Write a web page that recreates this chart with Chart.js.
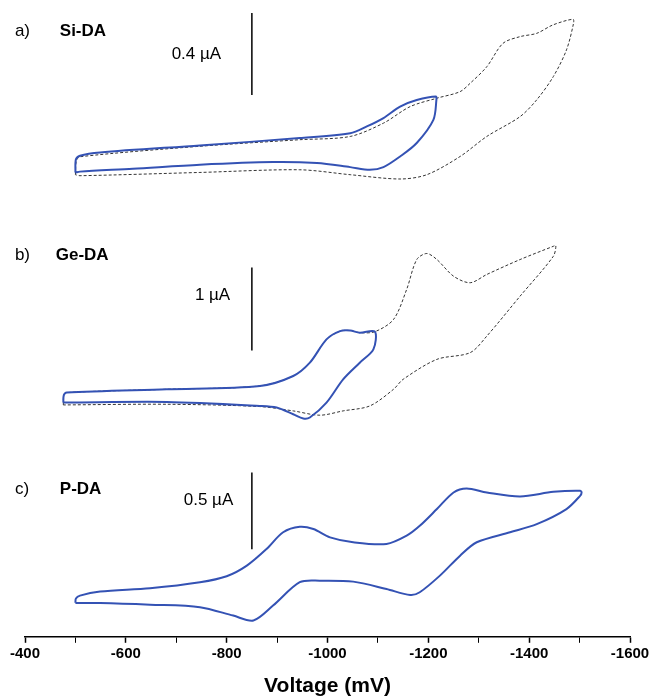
<!DOCTYPE html>
<html>
<head>
<meta charset="utf-8">
<script src="https://cdn.jsdelivr.net/npm/chart.js@4.4.1/dist/chart.umd.min.js"></script>
<style>
  html, body { margin: 0; padding: 0; background: #fff; }
  #wrap { width: 655px; height: 699px; position: relative; }
</style>
</head>
<body>
<div id="wrap"><canvas id="cv"></canvas></div>
<script>
// a) Si-DA  (voltage in mV, current in µA)
const siBlueV = [-500, -501, -509, -549, -747, -945, -1045, -1078, -1111, -1144, -1177, -1215, -1216, -1210, -1177, -1144, -1111, -1084, -1045, -979, -892, -747, -614, -509, -500];
const siBlueI = [0.010, 0.075, 0.093, 0.109, 0.143, 0.179, 0.203, 0.236, 0.277, 0.333, 0.365, 0.382, 0.366, 0.268, 0.155, 0.089, 0.037, 0.024, 0.037, 0.057, 0.062, 0.049, 0.029, 0.015, 0.010];
const siDashV = [-500, -502, -510, -747, -945, -1045, -1111, -1164, -1217, -1263, -1283, -1316, -1348, -1382, -1415, -1447, -1487, -1488, -1474, -1448, -1415, -1382, -1316, -1263, -1197, -1144, -1045, -945, -747, -509, -500];
const siDashI = [0.000, 0.070, 0.088, 0.139, 0.171, 0.187, 0.252, 0.333, 0.374, 0.406, 0.447, 0.528, 0.642, 0.675, 0.691, 0.732, 0.760, 0.740, 0.610, 0.480, 0.366, 0.284, 0.187, 0.089, 0.000, -0.021, 0.000, 0.024, 0.011, -0.005, 0.000];

// b) Ge-DA
const geBlueV = [-476, -477, -483, -681, -866, -932, -965, -998, -1025, -1045, -1064, -1094, -1091, -1064, -1031, -998, -965, -952, -932, -899, -866, -681, -483, -476];
const geBlueI = [0.081, 0.170, 0.201, 0.241, 0.281, 0.401, 0.562, 0.843, 0.943, 0.950, 0.924, 0.936, 0.723, 0.562, 0.361, 0.080, -0.100, -0.112, -0.060, 0.020, 0.040, 0.088, 0.081, 0.081];
const geDashV = [-476, -477, -483, -681, -866, -932, -965, -998, -1025, -1045, -1064, -1094, -1131, -1157, -1177, -1197, -1217, -1250, -1283, -1316, -1382, -1448, -1453, -1448, -1382, -1316, -1283, -1217, -1150, -1131, -1084, -1031, -985, -932, -866, -681, -476];
const geDashI = [0.052, 0.170, 0.201, 0.241, 0.281, 0.401, 0.562, 0.843, 0.943, 0.950, 0.924, 0.936, 1.084, 1.446, 1.807, 1.880, 1.807, 1.606, 1.527, 1.627, 1.807, 1.967, 1.976, 1.847, 1.365, 0.883, 0.683, 0.602, 0.361, 0.241, 0.040, -0.020, -0.072, -0.020, 0.032, 0.060, 0.052];

// c) P-DA
const pBlueV = [-500, -501, -509, -549, -648, -747, -800, -840, -879, -912, -945, -972, -1005, -1051, -1117, -1157, -1183, -1217, -1250, -1276, -1316, -1382, -1448, -1501, -1504, -1501, -1474, -1415, -1362, -1296, -1263, -1223, -1183, -1164, -1117, -1051, -985, -945, -892, -853, -813, -747, -648, -549, -500];
const pBlueI = [0.006, 0.035, 0.054, 0.080, 0.102, 0.141, 0.180, 0.249, 0.357, 0.466, 0.502, 0.487, 0.433, 0.401, 0.390, 0.444, 0.508, 0.617, 0.725, 0.751, 0.725, 0.699, 0.729, 0.736, 0.725, 0.703, 0.617, 0.519, 0.466, 0.401, 0.314, 0.184, 0.076, 0.058, 0.097, 0.145, 0.151, 0.141, -0.011, -0.108, -0.076, -0.021, -0.005, 0.006, 0.006];

// panel labels and scale bars
const panelAxes = ['ya', 'yb', 'yc'];
const panelTags = ['a)', 'b)', 'c)'];
const compoundNames = ['Si-DA', 'Ge-DA', 'P-DA'];
const barTexts = ['0.4 µA', '1 µA', '0.5 µA'];
const barSpan = [0.4, 1, 0.5];      // µA
const barTop = [0.79, 1.71, 0.855]; // µA
const barV = -850;
const tagV = -380;
const tagI = [0.702, 1.855, 0.747];
const nameV = [-469, -461, -469];
const barTextV = [-789, -807, -813];
const barTextI = [0.590, 1.373, 0.675];

const pts = (v, i) => v.map((x, k) => ({ x, y: i[k] }));
const BLUE = '#3452b4';

const blue = (v, i, axis) => ({
  data: pts(v, i), yAxisID: axis, borderColor: BLUE, borderWidth: 2,
  tension: 0.3, pointRadius: 0, fill: false
});
const dashed = (v, i, axis) => ({
  data: pts(v, i), yAxisID: axis, borderColor: '#333', borderWidth: 1,
  borderDash: [3, 2], tension: 0.3, pointRadius: 0, fill: false
});

const bars = panelAxes.map((axis, k) => ({
  data: [{ x: barV, y: barTop[k] }, { x: barV, y: barTop[k] - barSpan[k] }],
  yAxisID: axis, borderColor: '#000', borderWidth: 1.5, pointRadius: 0, tension: 0
}));

const font = '"Liberation Sans", Arial, sans-serif';

const panelText = {
  id: 'panelText',
  afterDraw(chart) {
    const ctx = chart.ctx;
    const xs = chart.scales.x;
    ctx.save();
    ctx.fillStyle = '#000';
    ctx.textBaseline = 'middle';
    panelAxes.forEach((id, k) => {
      const ys = chart.scales[id];
      ctx.textAlign = 'left';
      ctx.font = '17px ' + font;
      ctx.fillText(panelTags[k], xs.getPixelForValue(tagV), ys.getPixelForValue(tagI[k]));
      ctx.font = 'bold 17px ' + font;
      ctx.fillText(compoundNames[k], xs.getPixelForValue(nameV[k]), ys.getPixelForValue(tagI[k]));
      ctx.textAlign = 'right';
      ctx.font = '17px ' + font;
      ctx.fillText(barTexts[k], xs.getPixelForValue(barTextV[k]), ys.getPixelForValue(barTextI[k]));
    });
    ctx.restore();
  }
};

new Chart(document.getElementById('cv'), {
  type: 'line',
  data: {
    datasets: [
      blue(siBlueV, siBlueI, 'ya'),
      blue(geBlueV, geBlueI, 'yb'),
      blue(pBlueV, pBlueI, 'yc'),
      dashed(siDashV, siDashI, 'ya'),
      dashed(geDashV, geDashI, 'yb'),
      ...bars
    ]
  },
  options: {
    responsive: true,
    maintainAspectRatio: false,
    devicePixelRatio: 1,
    animation: false,
    layout: { padding: { left: 25, right: 25, top: 0, bottom: 0 } },
    plugins: { legend: { display: false }, tooltip: { enabled: false } },
    scales: {
      x: {
        type: 'linear', reverse: true, min: -1600, max: -400,
        border: { display: true, color: '#000', width: 1.5 },
        grid: {
          drawOnChartArea: false, drawTicks: true, tickLength: 6, color: '#000',
          tickWidth: (c) => (c.tick && c.tick.value % 200 === 0 ? 1.5 : 1)
        },
        ticks: {
          stepSize: 100, padding: 2, color: '#000',
          font: { family: font, size: 15, weight: 'bold' },
          maxRotation: 0, autoSkip: false,
          callback: (v) => (v % 200 === 0 ? String(v) : '')
        },
        title: {
          display: true, text: 'Voltage (mV)', color: '#000',
          font: { family: font, size: 21, weight: 'bold' },
          padding: { top: 9, bottom: 0 }
        }
      },
      ya: { type: 'linear', display: false, min: -2.259, max: 0.854 },
      yb: { type: 'linear', display: false, min: -2.747, max: 4.940 },
      yc: { type: 'linear', display: false, min: -0.214, max: 3.929 }
    }
  },
  plugins: [panelText]
});
</script>
</body>
</html>
